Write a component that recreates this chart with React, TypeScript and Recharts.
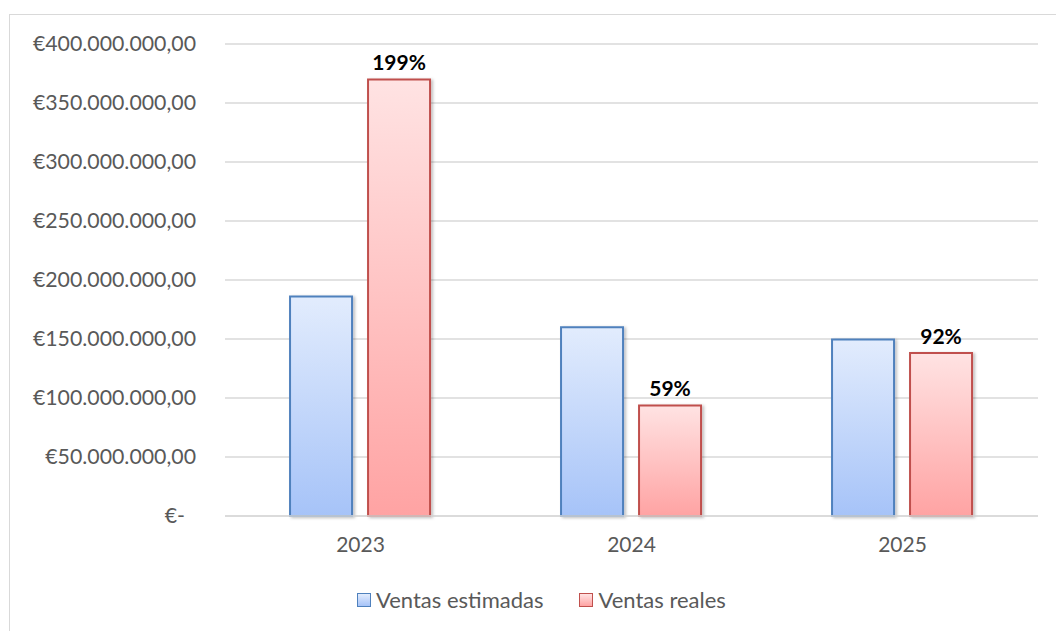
import React from "react"
import {
  BarChart, Bar, XAxis, YAxis, CartesianGrid, Legend, LabelList,
} from "recharts"

/* Valores (en euros) */
const YEARS = ["2023", "2024", "2025"]
const ESTIMADAS = [186000000, 160000000, 149500000]
const REALES = [370000000, 93700000, 138200000]
const PCT_LABELS = ["199%", "59%", "92%"]
const Y_TICKS = [0, 50000000, 100000000, 150000000, 200000000, 250000000, 300000000, 350000000, 400000000]

const FONT = "Lato, 'Open Sans', sans-serif"
const GREY = "#595959"
const GRID = "#d9d9d9"

const data = YEARS.map((y, i) => ({
  year: y,
  estimadas: ESTIMADAS[i],
  reales: REALES[i],
  pct: PCT_LABELS[i],
}))

const fmtEuro = (v: number) =>
  v === 0 ? "€-" : "€" + String(Math.round(v)).replace(/\B(?=(\d{3})+(?!\d))/g, ".") + ",00"

function YTick(props: any) {
  const { x, y, payload } = props
  const zero = payload.value === 0
  return (
    <text x={zero ? x - 11 : x} y={y} dy="0.35em" textAnchor="end"
      fill={GREY} fontSize={21.3} fontFamily={FONT}>
      {fmtEuro(payload.value)}
    </text>
  )
}

const LEGEND_ITEMS = [
  { name: "Ventas estimadas", from: "#e2ecfd", to: "#a6c3f8", stroke: "#4f81bd" },
  { name: "Ventas reales", from: "#ffe3e3", to: "#ffa3a3", stroke: "#c0504d" },
]

function LegendBox() {
  return (
    <div style={{ display: "flex", justifyContent: "flex-start", gap: 36, height: 24, lineHeight: "24px",
      fontFamily: FONT, fontSize: 22, color: GREY, paddingLeft: 357 }}>
      {LEGEND_ITEMS.map((it) => (
        <div key={it.name} style={{ display: "flex", alignItems: "center" }}>
          <span style={{
            display: "inline-block", width: 12, height: 12, marginRight: 5,
            border: `1.5px solid ${it.stroke}`,
            background: `linear-gradient(${it.from}, ${it.to})`,
          }} />
          {it.name}
        </div>
      ))}
    </div>
  )
}

export default function App() {
  return (
    <div style={{ position: "absolute", left: 0, top: 0, width: 1056, height: 631, overflow: "hidden", background: "#fff" }}>
      <div style={{ position: "absolute", left: 9, top: 14, width: 1100, height: 700,
        borderTop: `1.5px solid ${GRID}`, borderLeft: `1.5px solid ${GRID}` }} />
      <div style={{ position: "absolute", left: 0, top: 0 }}>
        <BarChart width={1056} height={631} data={data}
          margin={{ top: 44, right: 18, left: 0, bottom: 19 }}
          barCategoryGap="24%" barGap={16}>
          <defs>
            <linearGradient id="gBlue" x1="0" y1="0" x2="0" y2="1">
              <stop offset="0%" stopColor="#e2ecfd" />
              <stop offset="100%" stopColor="#a6c3f8" />
            </linearGradient>
            <linearGradient id="gRed" x1="0" y1="0" x2="0" y2="1">
              <stop offset="0%" stopColor="#ffe3e3" />
              <stop offset="100%" stopColor="#ffa3a3" />
            </linearGradient>
            <filter id="shadow" x="-10%" y="-10%" width="130%" height="120%">
              <feDropShadow dx="2" dy="1" stdDeviation="1.5" floodColor="#000" floodOpacity="0.25" />
            </filter>
          </defs>
          <CartesianGrid vertical={false} stroke={GRID} strokeWidth={1.5} />
          <XAxis dataKey="year" height={72} axisLine={{ stroke: GRID, strokeWidth: 1.5 }}
            tickLine={false} tickSize={0} tickMargin={21}
            tick={{ fill: GREY, fontSize: 21, fontFamily: FONT }} />
          <YAxis width={225} domain={[0, 400000000]} ticks={Y_TICKS} interval={0}
            axisLine={false} tickLine={false} tickSize={0} tickMargin={29}
            tick={<YTick />} />
          <Legend verticalAlign="bottom" content={<LegendBox />} />
          <Bar dataKey="estimadas" name="Ventas estimadas" fill="url(#gBlue)"
            stroke="#4f81bd" strokeWidth={2} filter="url(#shadow)" isAnimationActive={false} />
          <Bar dataKey="reales" name="Ventas reales" fill="url(#gRed)"
            stroke="#c0504d" strokeWidth={2} filter="url(#shadow)" isAnimationActive={false}>
            <LabelList dataKey="pct" position="top" offset={9} fill="#000"
              fontSize={21} fontWeight="bold" fontFamily={FONT} />
          </Bar>
        </BarChart>
      </div>
    </div>
  )
}
